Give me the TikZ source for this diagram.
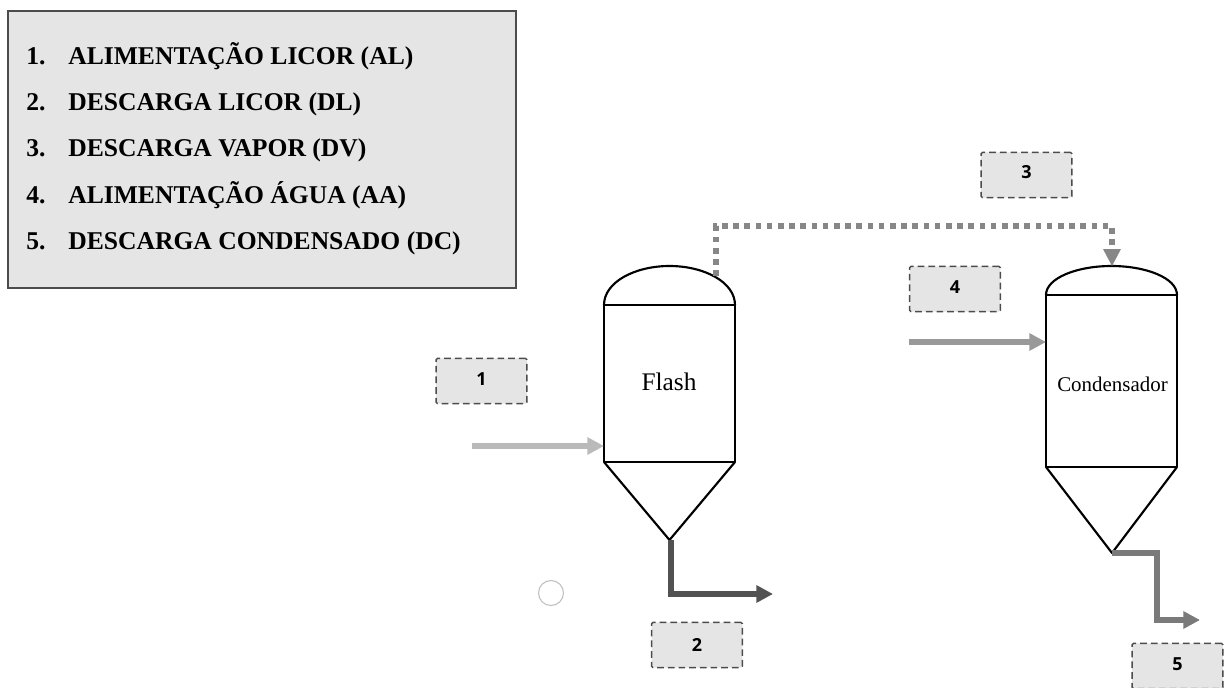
\documentclass[tikz,border=0pt]{standalone}
\usepackage{fontspec}
\setmainfont{Liberation Serif}
\newfontfamily\tagfont{Open Sans}
\usetikzlibrary{arrows.meta}
\tikzset{
  x=0.75pt,y=-0.75pt,
  vessel/.style={draw=black,line width=1.6pt,line join=round},
  legendbox/.style={draw=black!70,line width=1.5pt,fill=black!10},
  legendnum/.style={anchor=base west,inner sep=0pt,font=\fontsize{19.2}{21}\selectfont\bfseries,text=black},
  tagbox/.style={draw=black!70,dashed,dash pattern=on 5pt off 3pt,line width=1.1pt,fill=black!10,rounded corners=1pt,minimum width=68pt,minimum height=34pt,inner sep=0pt},
  tagtext/.style={inner sep=0pt,font=\fontsize{13.5}{15}\selectfont\tagfont\bfseries},
  flow/.style={line width=#1},
  flow/.default=4.2pt,
}
\begin{document}
\begin{tikzpicture}
\useasboundingbox (0,0) rectangle (1228,688);
\clip (0,0) rectangle (1228,688);
% legend
\draw[legendbox] (8,11) rectangle (516,288);
\foreach \yy/\nn/\tt in {65/1./ALIMENTAÇÃO LICOR (AL),111/2./DESCARGA LICOR (DL),157/3./DESCARGA VAPOR (DV),204/4./ALIMENTAÇÃO ÁGUA (AA),249/5./DESCARGA CONDENSADO (DC)}{
  \node[legendnum] (n\nn) at (26,\yy) {\nn};
  \node[legendnum] (t\nn) at (68,\yy) {\tt};
}
% flash vessel
\coordinate (fTL) at (604,305);
\coordinate (fTR) at (735,305);
\coordinate (fBL) at (604,462);
\coordinate (fBR) at (735,462);
\coordinate (fA) at (669.5,540);
\coordinate (fOut) at (671,540);
\coordinate (fTop) at (669.5,266);
\coordinate (fV) at (716,276);
\coordinate (fW) at (604,446);
\draw[vessel] (fTL) .. controls (604,282) and (635,266) .. (fTop) .. controls (704,266) and (735,282) .. (fTR);
\draw[vessel] (fTL) -- (fTR) -- (fBR) -- (fBL) -- cycle;
\draw[vessel] (fBL) -- (fA) -- (fBR);
\node[font=\fontsize{19}{21}\selectfont] (flash) at (669,382) {Flash};
% condenser
\coordinate (cTL) at (1046,295);
\coordinate (cTR) at (1177,295);
\coordinate (cBL) at (1046,467);
\coordinate (cBR) at (1177,467);
\coordinate (cA) at (1112,553);
\coordinate (cTop) at (1111.5,266);
\coordinate (cW) at (1046,342);
\draw[vessel] (cTL) .. controls (1046,278) and (1077,266) .. (cTop) .. controls (1146,266) and (1177,278) .. (cTR);
\draw[vessel] (cTL) -- (cTR) -- (cBR) -- (cBL) -- cycle;
\draw[vessel] (cBL) -- (cA) -- (cBR);
\node[font=\fontsize{15.7}{18}\selectfont] (cond) at (1112.5,384) {Condensador};
% tags
\node[tagbox] (tag1) at (481.5,381) {};
\node[tagbox] (tag2) at (697,645) {};
\node[tagbox] (tag3) at (1026.5,175) {};
\node[tagbox] (tag4) at (955,289) {};
\node[tagbox] (tag5) at (1177.5,666) {};
\node[tagtext] (num1) at (481.5,379.5) {1};
\node[tagtext] (num2) at (697,644.5) {2};
\node[tagtext] (num3) at (1026.5,172.5) {3};
\node[tagtext] (num4) at (955,287) {4};
\node[tagtext] (num5) at (1177.5,664.5) {5};
% flows
\coordinate (s1) at (472,446);
\coordinate (s4) at (909,342);
\coordinate (e2) at (773,594);
\coordinate (e5) at (1200,620);
\draw[flow,draw=black!27,-{Triangle[length=12.5pt,width=12.5pt,fill=black!27]}] (s1) -- (fW);
\draw[flow,draw=black!40,-{Triangle[length=12.5pt,width=12.5pt,fill=black!40]}] (s4) -- (cW);
\draw[flow=4.2pt,draw=black!68,line join=miter,-{Triangle[length=12.5pt,width=12.5pt,fill=black!68]}] (fOut) -- (671,594) -- (e2);
\draw[flow=4.2pt,draw=black!52,-{Triangle[length=12.5pt,width=12.5pt,fill=black!52]}] (cA) -- (1157,553) -- (1157,620) -- (e5);
\draw[draw=black!47,line width=4.5pt,dash pattern=on 4.2pt off 4.2pt] (fV) -- (716,226) -- (1112,226) -- (1112,250);
\fill[black!47] (1112,266) -- (1103,249) -- (1121,249) -- cycle;
% small circle
\draw[black!25,line width=0.8pt,fill=white] (551,593) circle (12.5);
\end{tikzpicture}
\end{document}
